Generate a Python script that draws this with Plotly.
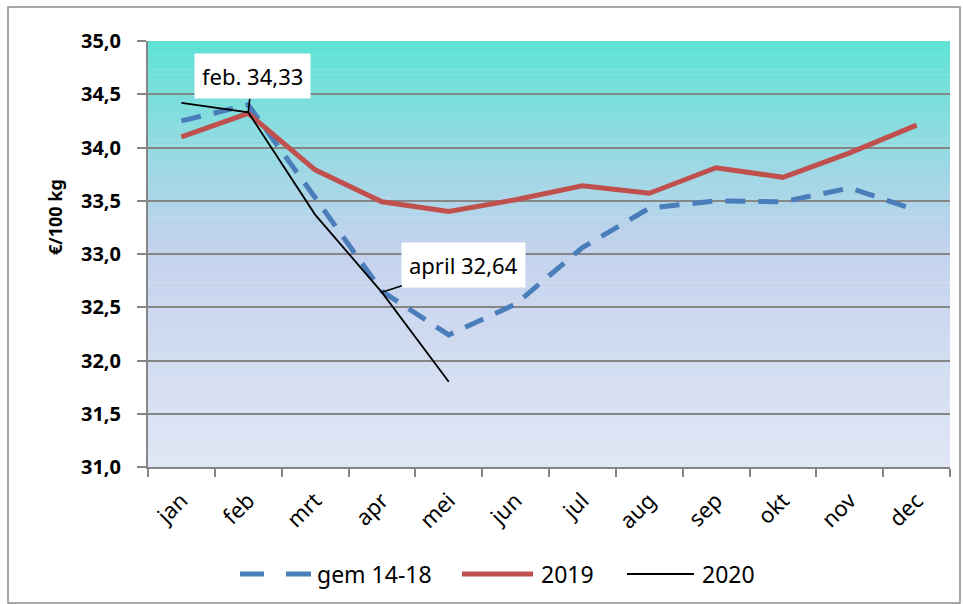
import plotly.graph_objects as go

months = ["jan", "feb", "mrt", "apr", "mei", "jun", "jul", "aug", "sep", "okt", "nov", "dec"]
gem_14_18 = [34.25, 34.40, 33.53, 32.65, 32.24, 32.53, 33.06, 33.43, 33.50, 33.49, 33.62, 33.41]
y2019 = [34.10, 34.32, 33.79, 33.49, 33.40, 33.51, 33.64, 33.57, 33.81, 33.72, 33.95, 34.21]
y2020 = [34.42, 34.33, 33.37, 32.64, 31.80]
y_ticks = [31.0, 31.5, 32.0, 32.5, 33.0, 33.5, 34.0, 34.5, 35.0]
series_names = ["gem 14-18", "2019", "2020"]
series_colors = ["#4A7EBB", "#C0504D", "#000000"]

FONT = "Noto Sans"
W, H = 963, 604
L, R, T, B = 148, 13, 41, 137
pw, ph = W - L - R, H - T - B


def px(x):
    return (x - L) / pw


def py(y):
    return (T + ph - y) / ph


fig = go.Figure()
fig.add_trace(go.Scatter(x=months, y=gem_14_18, mode="lines", name=series_names[0],
                         line=dict(color=series_colors[0], width=5, dash="20px,13px")))
fig.add_trace(go.Scatter(x=months, y=y2019, mode="lines", name=series_names[1],
                         line=dict(color=series_colors[1], width=5)))
fig.add_trace(go.Scatter(x=months[:len(y2020)], y=y2020, mode="lines", name=series_names[2],
                         line=dict(color=series_colors[2], width=1.8)))

# vertical gradient background
def lerp(c1, c2, t):
    return tuple(round(a + (b - a) * t) for a, b in zip(c1, c2))

stops = [(0.0, (95, 227, 213)), (0.48, (195, 210, 237)), (1.0, (224, 230, 245))]
n = 90
shapes = []
for i in range(n):
    t = (i + 0.5) / n
    for (p0, c0), (p1, c1) in zip(stops[:-1], stops[1:]):
        if p0 <= t <= p1:
            c = lerp(c0, c1, (t - p0) / (p1 - p0))
            break
    shapes.append(dict(type="rect", xref="paper", yref="paper", layer="below",
                       x0=0, x1=1, y0=1 - (i + 1) / n - 0.001, y1=1 - i / n,
                       fillcolor="rgb(%d,%d,%d)" % c, line=dict(width=0)))
# outer border
shapes.append(dict(type="rect", xref="paper", yref="paper", layer="below",
                   x0=px(8), x1=px(960), y0=py(603), y1=py(7),
                   line=dict(color="#8C8C8C", width=1.5), fillcolor="rgba(0,0,0,0)"))

# custom legend (long symbols like the original)
leg_y = py(574)
legend_segments = [(0, 240, 264, 5), (0, 286, 311, 5), (1, 462, 533, 5), (2, 627, 694, 1.8)]
for idx, x0, x1, w in legend_segments:
    shapes.append(dict(type="line", xref="paper", yref="paper", x0=px(x0), x1=px(x1),
                       y0=leg_y, y1=leg_y, line=dict(color=series_colors[idx], width=w)))
legend_text_x = [315, 539, 700]

annotations = [
    dict(x="feb", y=y2020[1], xref="x", yref="y", text="feb. 34,33", showarrow=True,
         arrowhead=0, arrowwidth=1.6, arrowcolor="black", ax=4, ay=-36,
         bgcolor="white", borderpad=7, font=dict(family=FONT, size=22, color="black")),
    dict(x="apr", y=y2020[3], xref="x", yref="y", text="april 32,64", showarrow=True,
         arrowhead=0, arrowwidth=1.6, arrowcolor="black", ax=82, ay=-27,
         bgcolor="white", borderpad=7, font=dict(family=FONT, size=22, color="black")),
    dict(x=px(55), y=py(217), xref="paper", yref="paper", xanchor="center", yanchor="middle",
         text="<b>€/100 kg</b>", textangle=-90, showarrow=False,
         font=dict(family=FONT, size=18, color="black")),
]
for name, tx in zip(series_names, legend_text_x):
    annotations.append(dict(x=px(tx), y=leg_y, xref="paper", yref="paper", xanchor="left",
                            yanchor="middle", text=name, showarrow=False,
                            font=dict(family=FONT, size=23, color="black")))

fig.update_layout(
    width=W, height=H,
    margin=dict(l=L, r=R, t=T, b=B),
    paper_bgcolor="white", plot_bgcolor="rgba(0,0,0,0)",
    separators=",.",
    font=dict(family=FONT, color="black"),
    shapes=shapes, annotations=annotations,
    showlegend=False,
    xaxis=dict(type="category", categoryorder="array", categoryarray=months,
               range=[-0.5, 11.5], tickson="boundaries", ticks="outside", ticklen=8,
               tickcolor="#868686", tickwidth=2, showline=True, linecolor="#868686", linewidth=2,
               showgrid=False, tickangle=-45, ticklabelstandoff=10,
               tickfont=dict(family=FONT, size=22)),
    yaxis=dict(range=[31, 35], tickvals=y_ticks, tickformat=".1f", ticks="outside", ticklen=9,
               tickcolor="#868686", tickwidth=2, showline=True, linecolor="#868686", linewidth=2,
               showgrid=True, gridcolor="#868686", gridwidth=2, zeroline=False,
               ticklabelstandoff=12,
               tickfont=dict(family=FONT, size=20, weight="bold")),
)

fig.write_html("out.html", config={"displayModeBar": False},
               post_script="document.body.style.margin='0';document.body.style.overflow='hidden';")
